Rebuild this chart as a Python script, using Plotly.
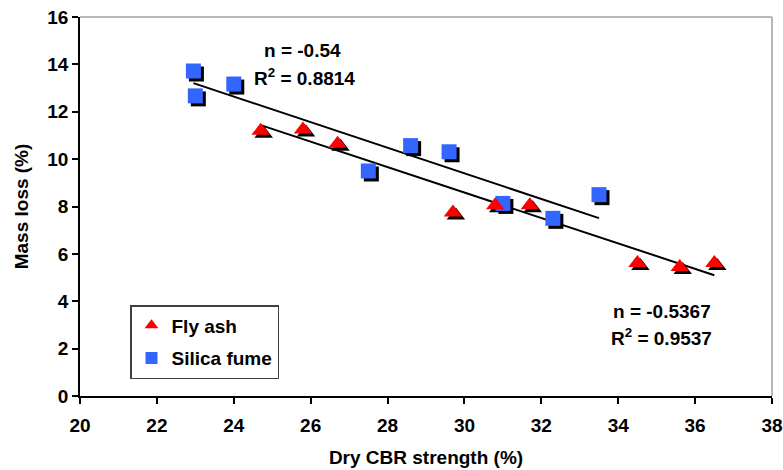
import plotly.graph_objects as go

# ---- data ----
fly_x = [24.7, 25.8, 26.7, 29.7, 30.8, 31.7, 34.5, 35.6, 36.5]
fly_y = [11.2, 11.25, 10.65, 7.75, 8.05, 8.05, 5.62, 5.45, 5.62]
sil_x = [22.95, 23.0, 24.0, 27.5, 28.6, 29.6, 31.0, 32.3, 33.5]
sil_y = [13.72, 12.67, 13.17, 9.5, 10.57, 10.31, 8.13, 7.5, 8.5]

fly_slope, fly_intercept = -0.5367, 24.69
sil_slope, sil_intercept = -0.54, 25.6

x_ticks = [20, 22, 24, 26, 28, 30, 32, 34, 36, 38]
y_ticks = [0, 2, 4, 6, 8, 10, 12, 14, 16]

x_range = [20, 38]
y_range = [0, 16]

FONT = "Liberation Sans, Arial, sans-serif"
W, H = 783, 470
ML, MR, MT, MB = 80, 11, 17, 74
pw = W - ML - MR
ph = H - MT - MB
dx = 3 * (x_range[1] - x_range[0]) / pw
dy = 3 * (y_range[1] - y_range[0]) / ph

RED = "#FF0000"
BLUE = "#3366FF"

fig = go.Figure()

# trend lines
for xs, m, b in [(sil_x, sil_slope, sil_intercept), (fly_x, fly_slope, fly_intercept)]:
    x0, x1 = min(xs), max(xs)
    fig.add_trace(go.Scatter(x=[x0, x1], y=[m * x0 + b, m * x1 + b], mode="lines",
                             line=dict(color="black", width=2), showlegend=False,
                             hoverinfo="skip"))

# shadows
fig.add_trace(go.Scatter(x=[v + dx for v in sil_x], y=[v - dy for v in sil_y], mode="markers",
                         marker=dict(symbol="square", size=15, color="black"),
                         showlegend=False, hoverinfo="skip"))
fig.add_trace(go.Scatter(x=[v + dx for v in fly_x], y=[v - dy for v in fly_y], mode="markers",
                         marker=dict(symbol="triangle-up", size=16, color="black"),
                         showlegend=False, hoverinfo="skip"))

# main markers
fig.add_trace(go.Scatter(x=sil_x, y=sil_y, mode="markers", name="Silica fume",
                         legendgroup="b", legendrank=2,
                         marker=dict(symbol="square", size=15, color=BLUE)))
fig.add_trace(go.Scatter(x=fly_x, y=fly_y, mode="markers", name="Fly ash",
                         legendgroup="a", legendrank=1,
                         marker=dict(symbol="triangle-up", size=16, color=RED)))

annot_font = dict(family=FONT, size=19, color="black", weight="bold")
fig.add_annotation(x=25.78, y=14.6, text="n = -0.54", showarrow=False, font=annot_font)
fig.add_annotation(x=25.85, y=13.47, text="R<sup>2</sup> = 0.8814", showarrow=False, font=annot_font)
fig.add_annotation(x=35.13, y=3.58, text="n = -0.5367", showarrow=False, font=annot_font)
fig.add_annotation(x=35.13, y=2.5, text="R<sup>2</sup> = 0.9537", showarrow=False, font=annot_font)

# gray top/right border
fig.add_shape(type="line", xref="paper", yref="paper", x0=0, x1=1, y0=1, y1=1,
              line=dict(color="#A0A0A0", width=1.5))
fig.add_shape(type="line", xref="paper", yref="paper", x0=1, x1=1, y0=0, y1=1,
              line=dict(color="#A0A0A0", width=1.5))

tick_font = dict(family=FONT, size=19, color="black", weight="bold")
fig.update_layout(
    width=W, height=H,
    margin=dict(l=ML, r=MR, t=MT, b=MB, autoexpand=False),
    paper_bgcolor="white", plot_bgcolor="white",
    font=dict(family=FONT, size=19, color="black"),
    showlegend=True,
    legend=dict(x=(130 - ML) / pw, y=(H - MB - 305) / ph, xanchor="left", yanchor="top",
                bgcolor="white", bordercolor="#404040", borderwidth=1.5,
                font=dict(family=FONT, size=19, color="black", weight="bold"),
                traceorder="grouped", tracegroupgap=5, itemsizing="constant"),
    xaxis=dict(range=x_range, tickvals=x_ticks, ticktext=[str(v) for v in x_ticks],
               showgrid=False, zeroline=False, showline=True, linecolor="black", linewidth=1.5,
               ticks="outside", ticklen=6, tickwidth=1.5, tickcolor="black",
               tickfont=tick_font, ticklabelstandoff=5, automargin=False,
               title=dict(text="Dry CBR strength (%)", font=dict(family=FONT, size=19, weight="bold"),
                          standoff=16)),
    yaxis=dict(range=y_range, tickvals=y_ticks, ticktext=[str(v) for v in y_ticks],
               showgrid=False, zeroline=False, showline=True, linecolor="black", linewidth=1.5,
               ticks="outside", ticklen=6, tickwidth=1.5, tickcolor="black",
               tickfont=tick_font, automargin=False,
               title=dict(text="Mass loss (%)", font=dict(family=FONT, size=19, weight="bold"),
                          standoff=14)),
)

fig.write_html("out.html")
